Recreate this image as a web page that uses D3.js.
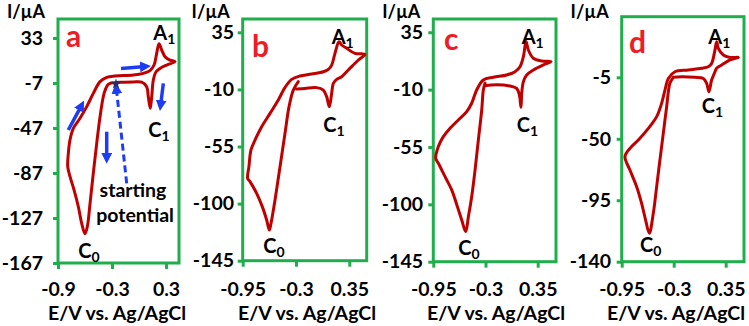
<!DOCTYPE html>
<html>
<head>
<meta charset="utf-8">
<script src="https://cdn.jsdelivr.net/npm/d3@7/dist/d3.min.js"></script>
<style>
  body { margin: 0; background: #fff; }
  text { font-family: Lato, "Open Sans", sans-serif; }
</style>
</head>
<body>
<div id="chart"></div>
<script>
// ---- data (E in V vs Ag/AgCl, I in uA) ----
const xTicksA = [-0.9, -0.3, 0.3];
const xTicksBCD = [-0.95, -0.3, 0.35];
const yTicksA = [33, -7, -47, -87, -127, -167];
const yTicksBC = [35, -10, -55, -100, -145];
const yTicksD = [-5, -50, -95, -140];

// panel a: closed loop starting and ending at the starting potential
const cvA = [
  [-0.26, -6.5], [-0.31, -7.0], [-0.345, -8.5], [-0.37, -12], [-0.397, -19.2],
  [-0.433, -37], [-0.47, -60.6], [-0.508, -87.3], [-0.544, -114], [-0.574, -134.5],
  [-0.6, -141], [-0.637, -131.7], [-0.674, -117], [-0.722, -102], [-0.767, -90],
  [-0.792, -81.4], [-0.785, -69.5], [-0.767, -57.7], [-0.73, -47.3], [-0.656, -38.4],
  [-0.581, -28], [-0.508, -16.2], [-0.433, -5.8], [-0.359, -2], [-0.267, -0.8],
  [-0.063, 0.1], [0.048, 1.6], [0.122, 4], [0.167, 9], [0.196, 19.4],
  [0.222, 28], [0.252, 22.3], [0.289, 16.4], [0.344, 13.4], [0.4, 12],
  [0.308, 9], [0.233, 6], [0.189, 3], [0.159, -4.3], [0.141, -19.2],
  [0.125, -29.5], [0.103, -19.2], [0.085, -10.3], [0.03, -6.2], [-0.063, -6],
  [-0.211, -6.3], [-0.26, -6.5]
];

const cvB = [
  [-0.272, -3.9], [-0.333, -10.5], [-0.385, -23.6], [-0.434, -44.6], [-0.495, -70.9],
  [-0.556, -97.2], [-0.605, -115.6], [-0.625, -120.8], [-0.658, -112.9], [-0.711, -102.4],
  [-0.78, -91.9], [-0.861, -82.7], [-0.89, -80.1], [-0.874, -70.9], [-0.849, -57.7],
  [-0.8, -49.9], [-0.719, -39.4], [-0.617, -28.9], [-0.516, -18.3], [-0.434, -8.4],
  [-0.353, -2.1], [-0.252, 0.56], [-0.109, 2.1], [0.033, 3.9], [0.094, 5.8],
  [0.135, 9.2], [0.175, 18.4], [0.224, 27.6], [0.257, 25], [0.318, 22.4],
  [0.419, 18.4], [0.541, 17.6], [0.46, 13.2], [0.338, 5.3], [0.257, 0.04],
  [0.196, -2.1], [0.155, -5.2], [0.135, -13.1], [0.106, -23.6], [0.074, -15.7],
  [0.033, -10.5], [-0.048, -8.6], [-0.191, -9.2], [-0.292, -9.7]
];

const cvC = [
  [-0.306, -5.0], [-0.327, -10.3], [-0.347, -26], [-0.389, -49.5], [-0.43, -73.1],
  [-0.472, -94], [-0.513, -109.7], [-0.547, -121.4], [-0.596, -112.3], [-0.65, -101.8],
  [-0.721, -88.7], [-0.804, -78.3], [-0.887, -67.8], [-0.92, -63.9], [-0.887, -54.7],
  [-0.825, -46.9], [-0.742, -40.4], [-0.638, -33.8], [-0.534, -27.3], [-0.472, -20.7],
  [-0.41, -10.3], [-0.327, -2.4], [-0.202, -0.3], [-0.036, 1.5], [0.068, 4.1],
  [0.13, 8.0], [0.172, 15.9], [0.205, 27.7], [0.234, 21.1], [0.296, 14.6],
  [0.4, 12.5], [0.516, 12], [0.421, 9.4], [0.296, 5.4], [0.213, 1.5],
  [0.172, -3.7], [0.151, -12.9], [0.142, -23.9], [0.122, -14.2], [0.088, -9],
  [0.005, -7.1], [-0.161, -6.1], [-0.306, -6.9]
];

const cvD = [
  [-0.305, -5.0], [-0.347, -9.4], [-0.388, -26.5], [-0.43, -46], [-0.472, -65.5],
  [-0.513, -85], [-0.555, -104.6], [-0.605, -119.2], [-0.651, -109.5], [-0.701, -97.3],
  [-0.763, -85.1], [-0.847, -72.9], [-0.909, -63.1], [-0.847, -57], [-0.742, -50.9],
  [-0.617, -42.4], [-0.513, -33.8], [-0.451, -24.1], [-0.409, -14.3], [-0.367, -5.8],
  [-0.284, -0.9], [-0.117, 0.35], [0.049, 1.6], [0.133, 2.8], [0.174, 5.2],
  [0.216, 15], [0.237, 21.1], [0.258, 16.2], [0.32, 11.3], [0.404, 9.6],
  [0.508, 9.6], [0.404, 7.7], [0.299, 4], [0.237, 1.6], [0.208, -2.1],
  [0.174, -7], [0.141, -15.5], [0.112, -9.4], [0.07, -5.8], [-0.034, -5],
  [-0.201, -4.5], [-0.305, -5.0]
];

// peak labels [main, subscript, E, I]
const peaksA = [['A', '1', 0.159, 31.2], ['C', '1', 0.103, -54.7], ['C', '0', -0.674, -162.8]];
const peaksB = [['A', '1', 0.135, 25.5], ['C', '1', 0.033, -43.3], ['C', '0', -0.699, -138.7]];
const peaksC = [['A', '1', 0.151, 25.6], ['C', '1', 0.089, -43], ['C', '0', -0.639, -139.7]];
const peaksD = [['A', '1', 0.1325, 19.2], ['C', '1', 0.05, -31.4], ['C', '0', -0.721, -132.7]];

// scan direction arrows in panel a [E1, I1, E2, I2]
const arrowsA = [
  [-0.2, 6, 0.035, 7.5],
  [0.27, -7.3, 0.244, -24.2],
  [-0.786, -48.8, -0.656, -29.5],
  [-0.359, -50.3, -0.359, -71]
];
const startArrowA = [-0.137, -96.2, -0.248, -14.7];
const startPointA = [-0.256, -7.9];
const startTextA = [['starting', -0.067, -108.3], ['potential', -0.044, -130.6]];

// ---- layout ----
const W = 749, H = 326;
const green = '#1fae4b', curveColor = '#c00000', letterRed = '#ee1c24', arrowBlue = '#1f3cf5';

const panels = [
  { name: 'a', cv: cvA, peaks: peaksA, xTicks: xTicksA, yTicks: yTicksA,
    xDom: [-0.9, 0.444], yDom: [-167, 49.9], l: 58, r: 179, t: 19, b: 263,
    yLabelGap: 15, letterX: 66, letterY: 47, titleX: 117 },
  { name: 'b', cv: cvB, peaks: peaksB, xTicks: xTicksBCD, yTicks: yTicksBC,
    xDom: [-0.95, 0.562], yDom: [-145, 45.5], l: 242.7, r: 366.7, t: 19, b: 260.7,
    yLabelGap: 8.7, letterX: 252, letterY: 57, titleX: 307 },
  { name: 'c', cv: cvC, peaks: peaksC, xTicks: xTicksBCD, yTicks: yTicksBC,
    xDom: [-0.95, 0.578], yDom: [-145, 45.4], l: 433.3, r: 556, t: 19, b: 261.7,
    yLabelGap: 10.3, letterX: 444, letterY: 50, titleX: 496 },
  { name: 'd', cv: cvD, peaks: peaksD, xTicks: xTicksBCD, yTicks: yTicksD,
    xDom: [-0.95, 0.579], yDom: [-140, 39.4], l: 621.7, r: 744, t: 16.7, b: 261.7,
    yLabelGap: 10.7, letterX: 629, letterY: 53, titleX: 676 }
];

const svg = d3.select('#chart').append('svg')
    .attr('width', W)
    .attr('height', H)
    .style('display', 'block');

const defs = svg.append('defs');
defs.append('marker')
    .attr('id', 'head')
    .attr('markerUnits', 'userSpaceOnUse')
    .attr('viewBox', '0 0 10 10')
    .attr('refX', 2).attr('refY', 5)
    .attr('markerWidth', 11).attr('markerHeight', 11)
    .attr('orient', 'auto')
    .append('path').attr('d', 'M0,0 L10,5 L0,10 Z').attr('fill', arrowBlue);

function drawPanel(p) {
    const x = d3.scaleLinear().domain(p.xDom).range([p.l, p.r]);
    const y = d3.scaleLinear().domain(p.yDom).range([p.b, p.t]);
    const g = svg.append('g').attr('class', 'panel-' + p.name);

    // y axis ticks + labels
    const yAxis = g.append('g')
        .attr('transform', `translate(${p.l},0)`)
        .call(d3.axisLeft(y).tickValues(p.yTicks).tickSize(5)
            .tickPadding(p.yLabelGap - 5).tickFormat(d => String(d)));
    yAxis.select('.domain').remove();

    // x axis ticks + labels
    const xAxis = g.append('g')
        .attr('transform', `translate(0,${p.b})`)
        .call(d3.axisBottom(x).tickValues(p.xTicks).tickSize(6)
            .tickFormat(d => String(d)));
    xAxis.select('.domain').remove();
    xAxis.selectAll('text').attr('dy', null).attr('y', 296 - p.b);

    g.selectAll('.tick line').attr('stroke', green).attr('stroke-width', 3);
    g.selectAll('.tick text')
        .attr('fill', '#000')
        .style('font-family', 'Lato, sans-serif')
        .style('font-weight', 700)
        .style('font-size', '19.5px');

    // plot box
    g.append('rect')
        .attr('x', p.l).attr('y', p.t)
        .attr('width', p.r - p.l).attr('height', p.b - p.t)
        .attr('fill', 'none')
        .attr('stroke', green)
        .attr('stroke-width', 3);

    // CV curve
    const line = d3.line()
        .x(d => x(d[0]))
        .y(d => y(d[1]))
        .curve(d3.curveCatmullRom.alpha(0.5));
    g.append('path')
        .datum(p.cv)
        .attr('d', line)
        .attr('fill', 'none')
        .attr('stroke', curveColor)
        .attr('stroke-width', 3)
        .attr('stroke-linejoin', 'round')
        .attr('stroke-linecap', 'round');

    // peak labels
    p.peaks.forEach(pk => {
        const t = g.append('text')
            .attr('x', x(pk[2])).attr('y', y(pk[3]))
            .attr('fill', '#000')
            .style('font-weight', 700)
            .style('font-size', '20px');
        t.append('tspan').text(pk[0]);
        t.append('tspan').attr('dy', 4).style('font-size', '14px').text(pk[1]);
    });

    // panel letter
    g.append('text')
        .attr('x', p.letterX).attr('y', p.letterY)
        .attr('fill', letterRed)
        .style('font-weight', 700)
        .style('font-size', '30px')
        .text(p.name);

    // axis titles
    g.append('text')
        .attr('x', p.l - 13).attr('y', 18)
        .attr('text-anchor', 'end')
        .style('font-weight', 700)
        .style('font-size', '18px')
        .text('I/\u00b5A');
    g.append('text')
        .attr('x', p.titleX).attr('y', 319.5)
        .attr('text-anchor', 'middle')
        .style('font-weight', 700)
        .style('font-size', '19.5px')
        .text('E/V vs. Ag/AgCl');

    return { x, y, g };
}

const drawn = panels.map(drawPanel);

// annotations for panel a
const pa = drawn[0];
pa.g.selectAll('.scan-arrow')
    .data(arrowsA)
    .enter()
    .append('line')
    .attr('class', 'scan-arrow')
    .attr('x1', d => pa.x(d[0])).attr('y1', d => pa.y(d[1]))
    .attr('x2', d => pa.x(d[2])).attr('y2', d => pa.y(d[3]))
    .attr('stroke', arrowBlue)
    .attr('stroke-width', 3.5)
    .attr('marker-end', 'url(#head)');

pa.g.append('line')
    .attr('x1', pa.x(startArrowA[0])).attr('y1', pa.y(startArrowA[1]))
    .attr('x2', pa.x(startArrowA[2])).attr('y2', pa.y(startArrowA[3]))
    .attr('stroke', arrowBlue)
    .attr('stroke-width', 3)
    .attr('stroke-dasharray', '7,4')
    .attr('marker-end', 'url(#head)');

pa.g.append('path')
    .attr('d', d3.symbol().type(d3.symbolStar).size(34)())
    .attr('transform', `translate(${pa.x(startPointA[0])},${pa.y(startPointA[1])})`)
    .attr('fill', '#1f2f6b');

pa.g.selectAll('.start-text')
    .data(startTextA)
    .enter()
    .append('text')
    .attr('class', 'start-text')
    .attr('x', d => pa.x(d[1])).attr('y', d => pa.y(d[2]))
    .attr('text-anchor', 'middle')
    .style('font-weight', 700)
    .style('font-size', '19.5px')
    .text(d => d[0]);
</script>
</body>
</html>
